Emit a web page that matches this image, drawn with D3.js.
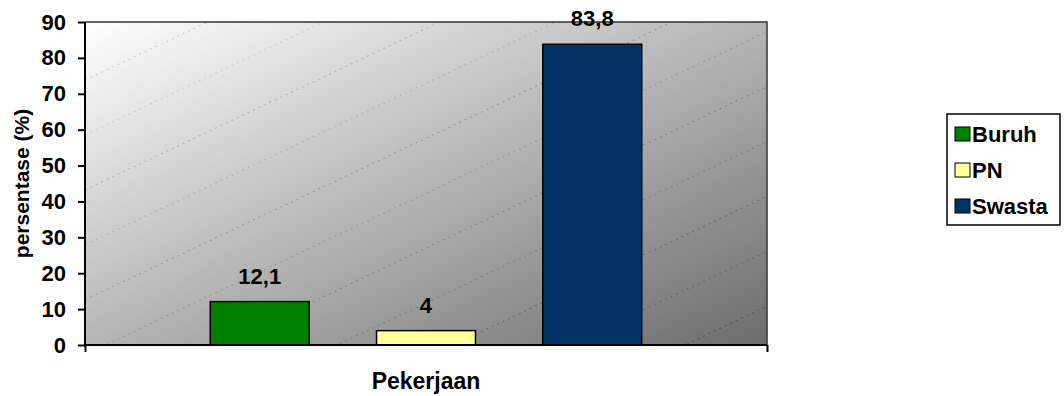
<!DOCTYPE html>
<html>
<head>
<meta charset="utf-8">
<script src="https://cdn.jsdelivr.net/npm/d3@7"></script>
<style>
  body { margin: 0; background: #fff; }
  svg { display: block; font-family: "Liberation Sans", Arial, sans-serif; font-weight: bold; }
</style>
</head>
<body>
<svg id="chart" width="1064" height="396"></svg>
<script>
// data
const categories = ["Pekerjaan"];
const seriesNames = ["Buruh", "PN", "Swasta"];
const seriesValues = [12.1, 4, 83.8];
const valueLabels = ["12,1", "4", "83,8"];
const seriesColors = ["#008000", "#ffff99", "#003366"];
const yTicks = [0, 10, 20, 30, 40, 50, 60, 70, 80, 90];

const margin = {left: 85, right: 297, top: 22, bottom: 51};
const width = 1064 - margin.left - margin.right;
const height = 396 - margin.top - margin.bottom;

const svg = d3.select("#chart");
const g = svg.append("g")
    .attr("transform", "translate(" + margin.left + "," + margin.top + ")");

// background gradient, white top-left to grey bottom-right
const defs = svg.append("defs");
const grad = defs.append("linearGradient")
    .attr("id", "bg")
    .attr("x1", 0).attr("y1", 0).attr("x2", 1).attr("y2", 1);
grad.append("stop").attr("offset", "0%").attr("stop-color", "#ffffff");
grad.append("stop").attr("offset", "100%").attr("stop-color", "#6c6c6c");

defs.append("clipPath").attr("id", "plotClip")
    .append("rect").attr("width", width).attr("height", height);

g.append("rect")
    .attr("width", width)
    .attr("height", height)
    .attr("fill", "url(#bg)");

// dotted banding lines of the gradient (x/W + y/H = c)
const bands = g.append("g").attr("clip-path", "url(#plotClip)");
d3.range(0.18, 2, 0.17).forEach((c, i) => {
    bands.append("line")
        .attr("x1", 0).attr("y1", c * height)
        .attr("x2", c * width).attr("y2", 0)
        .attr("stroke", "#000")
        .attr("stroke-opacity", (i % 2 ? 0.08 : 0.14) + c * 0.06)
        .attr("stroke-width", 1.2)
        .attr("stroke-dasharray", "2,4");
});

// scales
const x0 = d3.scaleBand().domain(categories).range([0, width]).padding(0.225);
const x1 = d3.scaleBand().domain(seriesNames).range([0, x0.bandwidth()]).paddingInner(0.405);
const y = d3.scaleLinear().domain([0, 90]).range([height, 0]);

// plot border top/right
g.append("path")
    .attr("d", "M0,0H" + width + "V" + height)
    .attr("fill", "none")
    .attr("stroke", "#333")
    .attr("stroke-width", 1.5);

// bars
const bars = g.append("g").attr("transform", "translate(" + x0(categories[0]) + ",0)");
bars.selectAll("rect")
    .data(seriesNames)
    .join("rect")
    .attr("x", d => x1(d))
    .attr("y", (d, i) => y(seriesValues[i]))
    .attr("width", x1.bandwidth())
    .attr("height", (d, i) => y(0) - y(seriesValues[i]))
    .attr("fill", (d, i) => seriesColors[i])
    .attr("stroke", "#000")
    .attr("stroke-width", 1.5);

bars.selectAll("text")
    .data(seriesNames)
    .join("text")
    .attr("x", d => x1(d) + x1.bandwidth() / 2)
    .attr("y", (d, i) => y(seriesValues[i]) - 18)
    .attr("text-anchor", "middle")
    .attr("font-size", 22)
    .attr("fill", "#000")
    .text((d, i) => valueLabels[i]);

// y axis
const yAxis = g.append("g")
    .call(d3.axisLeft(y).tickValues(yTicks).tickSize(7).tickPadding(12));
yAxis.select(".domain").attr("stroke-width", 2).attr("d", "M0," + height + "V0");
yAxis.selectAll(".tick line").attr("stroke-width", 2);
yAxis.selectAll(".tick text")
    .attr("font-size", 22)
    .attr("font-family", "Liberation Sans, Arial, sans-serif")
    .attr("font-weight", "bold")
    .attr("fill", "#000");

// x axis: only the end ticks
const xAxis = g.append("g")
    .attr("transform", "translate(0," + height + ")")
    .call(d3.axisBottom(d3.scaleLinear().domain([0, 1]).range([0, width]))
        .tickValues([0, 1]).tickSize(7).tickFormat(""));
xAxis.select(".domain").attr("stroke-width", 2).attr("d", "M0,0H" + width);
xAxis.selectAll(".tick line").attr("stroke-width", 2);

// axis titles
g.append("text")
    .attr("x", width / 2)
    .attr("y", height + 44)
    .attr("text-anchor", "middle")
    .attr("font-size", 23)
    .text("Pekerjaan");

svg.append("text")
    .attr("transform", "translate(29," + (margin.top + height / 2) + ") rotate(-90)")
    .attr("text-anchor", "middle")
    .attr("font-size", 21)
    .text("persentase (%)");

// legend
const legend = svg.append("g").attr("transform", "translate(947,114)");
legend.append("rect")
    .attr("width", 113)
    .attr("height", 111)
    .attr("fill", "#fff")
    .attr("stroke", "#000")
    .attr("stroke-width", 1.5);

const items = legend.selectAll("g.item")
    .data(seriesNames)
    .join("g")
    .attr("class", "item")
    .attr("transform", (d, i) => "translate(8," + (20 + i * 36) + ")");
items.append("rect")
    .attr("x", 0).attr("y", -7)
    .attr("width", 15).attr("height", 14)
    .attr("fill", (d, i) => seriesColors[i])
    .attr("stroke", "#000")
    .attr("stroke-width", 1);
items.append("text")
    .attr("x", 17)
    .attr("y", 8)
    .attr("font-size", 22)
    .text(d => d);
</script>
</body>
</html>
